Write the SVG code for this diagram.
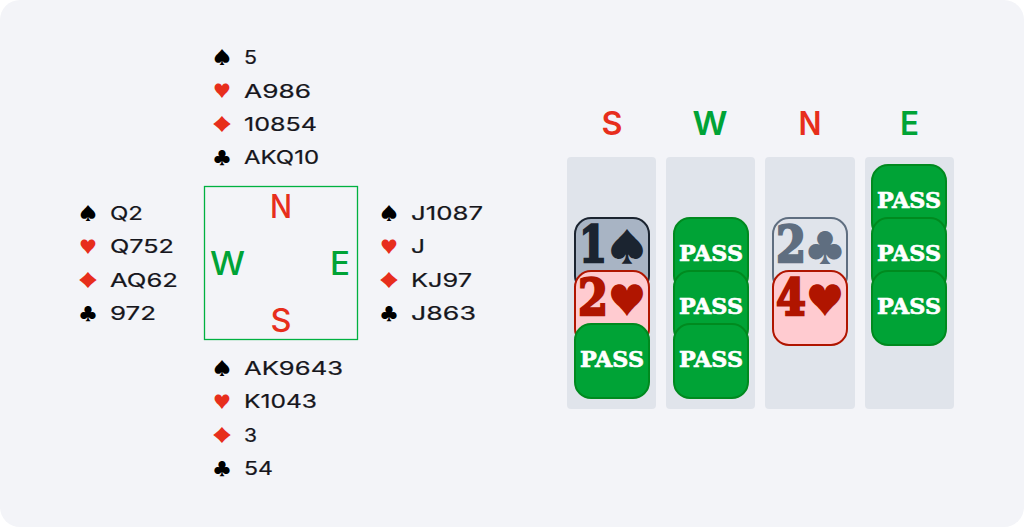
<svg xmlns="http://www.w3.org/2000/svg" width="1024" height="527" viewBox="0 0 1024 527">
<style>
.h{font:400 19px Inter,"Liberation Sans",sans-serif;fill:#16161c;stroke:#16161c;stroke-width:.2}
.s{font:400 17.500px "Noto Sans CJK SC","DejaVu Sans",sans-serif;text-anchor:middle}
.d{font-size:17px}
.k{fill:#000}.r{fill:#e72e1c}
.cr{font:500 32px Inter,"Liberation Sans",sans-serif;text-anchor:middle;fill:#e72e1c}
.cg{font:500 32px Inter,"Liberation Sans",sans-serif;text-anchor:middle;fill:#00a336}
.hd{font-weight:600}
.col{fill:#e0e4eb}
.card{stroke-width:2}
.pass{fill:#00a336;stroke:#008a1f}
.pt{font:700 23px "DejaVu Serif",serif;fill:#fff;text-anchor:middle;stroke:#fff;stroke-width:.7}
.b{font:700 50px "DejaVu Serif",serif;stroke-width:2.400}
.bs{font:400 38px "Noto Sans CJK SC","DejaVu Sans",sans-serif;text-anchor:middle}
</style>
<rect width="1024" height="527" fill="#fff"/>
<rect width="1024" height="527" rx="20" fill="#f3f4f8"/>
<g id="north">
<text class="s k" x="222" y="64">♠</text><text class="h" x="244" y="64" textLength="13" lengthAdjust="spacingAndGlyphs">5</text>
<text class="s r" x="222" y="97">♥</text><text class="h" x="244" y="98" textLength="67" lengthAdjust="spacingAndGlyphs">A986</text>
<text class="s d r" x="222" y="130.500" textLength="24" lengthAdjust="spacingAndGlyphs">♦</text><text class="h" x="244" y="131" textLength="73" lengthAdjust="spacingAndGlyphs">10854</text>
<text class="s k" x="222" y="164">♣</text><text class="h" x="244" y="164" textLength="75" lengthAdjust="spacingAndGlyphs">AKQ10</text>
</g>
<g id="west">
<text class="s k" x="88" y="220">♠</text><text class="h" x="110" y="220" textLength="33" lengthAdjust="spacingAndGlyphs">Q2</text>
<text class="s r" x="88" y="253">♥</text><text class="h" x="110" y="253" textLength="64" lengthAdjust="spacingAndGlyphs">Q752</text>
<text class="s d r" x="88" y="286.500" textLength="24" lengthAdjust="spacingAndGlyphs">♦</text><text class="h" x="110" y="287" textLength="68" lengthAdjust="spacingAndGlyphs">AQ62</text>
<text class="s k" x="88" y="320">♣</text><text class="h" x="110" y="320" textLength="46" lengthAdjust="spacingAndGlyphs">972</text>
</g>
<g id="east">
<text class="s k" x="389" y="220">♠</text><text class="h" x="411" y="220" textLength="72" lengthAdjust="spacingAndGlyphs">J1087</text>
<text class="s r" x="389" y="253">♥</text><text class="h" x="411" y="253" textLength="14" lengthAdjust="spacingAndGlyphs">J</text>
<text class="s d r" x="389" y="286.500" textLength="24" lengthAdjust="spacingAndGlyphs">♦</text><text class="h" x="411" y="287" textLength="61" lengthAdjust="spacingAndGlyphs">KJ97</text>
<text class="s k" x="389" y="320">♣</text><text class="h" x="411" y="320" textLength="65" lengthAdjust="spacingAndGlyphs">J863</text>
</g>
<g id="south">
<text class="s k" x="222" y="375">♠</text><text class="h" x="244" y="375" textLength="99" lengthAdjust="spacingAndGlyphs">AK9643</text>
<text class="s r" x="222" y="408">♥</text><text class="h" x="244" y="408" textLength="73" lengthAdjust="spacingAndGlyphs">K1043</text>
<text class="s d r" x="222" y="441.500" textLength="24" lengthAdjust="spacingAndGlyphs">♦</text><text class="h" x="244" y="442" textLength="13" lengthAdjust="spacingAndGlyphs">3</text>
<text class="s k" x="222" y="475">♣</text><text class="h" x="244" y="475" textLength="29" lengthAdjust="spacingAndGlyphs">54</text>
</g>
<g id="compass">
<rect x="204.500" y="186.500" width="153" height="153" fill="none" stroke="#00b140" stroke-width="1.300"/>
<text class="cr" x="281" y="218" textLength="22" lengthAdjust="spacingAndGlyphs">N</text>
<text class="cg" x="227.500" y="275" textLength="35" lengthAdjust="spacingAndGlyphs">W</text>
<text class="cg" x="340" y="275" textLength="20" lengthAdjust="spacingAndGlyphs">E</text>
<text class="cr" x="281" y="332" textLength="21" lengthAdjust="spacingAndGlyphs">S</text>
</g>
<g id="bidding-headers">
<text class="cr hd" x="612" y="135" textLength="21" lengthAdjust="spacingAndGlyphs">S</text>
<text class="cg hd" x="710" y="135" textLength="35" lengthAdjust="spacingAndGlyphs">W</text>
<text class="cr hd" x="810" y="135" textLength="23" lengthAdjust="spacingAndGlyphs">N</text>
<text class="cg hd" x="909.500" y="135" textLength="19" lengthAdjust="spacingAndGlyphs">E</text>
</g>
<g id="columns">
<rect class="col" x="567" y="157" width="89" height="252" rx="4"/>
<rect class="col" x="666" y="157" width="89" height="252" rx="4"/>
<rect class="col" x="765" y="157" width="90" height="252" rx="4"/>
<rect class="col" x="865" y="157" width="89" height="252" rx="4"/>
</g>
<g id="col-s">
<g id="bid-1s"><rect class="card" x="575" y="218" width="74" height="74" rx="16" fill="#a8b4c4" stroke="#1b2430"/><text class="b" x="579" y="262" fill="#1b2430" stroke="#1b2430" textLength="28" lengthAdjust="spacingAndGlyphs">1</text><text class="bs" x="627" y="261" fill="#1b2430">♠</text></g>
<g id="bid-2h"><rect class="card" x="575" y="271" width="74" height="74" rx="16" fill="#ffcbd0" stroke="#b01500"/><text class="b" x="578" y="315" fill="#b01500" stroke="#b01500" textLength="30" lengthAdjust="spacingAndGlyphs">2</text><text class="bs" x="627" y="314" fill="#b01500">♥</text></g>
<g id="pass-s"><rect class="card pass" x="575" y="324" width="74" height="74" rx="16"/><text class="pt" x="612" y="367" textLength="64" lengthAdjust="spacingAndGlyphs">PASS</text></g>
</g>
<g id="col-w">
<g id="pass-w1"><rect class="card pass" x="674" y="218" width="74" height="74" rx="16"/><text class="pt" x="711" y="261" textLength="64" lengthAdjust="spacingAndGlyphs">PASS</text></g>
<g id="pass-w2"><rect class="card pass" x="674" y="271" width="74" height="74" rx="16"/><text class="pt" x="711" y="314" textLength="64" lengthAdjust="spacingAndGlyphs">PASS</text></g>
<g id="pass-w3"><rect class="card pass" x="674" y="324" width="74" height="74" rx="16"/><text class="pt" x="711" y="367" textLength="64" lengthAdjust="spacingAndGlyphs">PASS</text></g>
</g>
<g id="col-n">
<g id="bid-2c"><rect class="card" x="773" y="218" width="74" height="74" rx="16" fill="#e0e4eb" stroke="#5f6e80"/><text class="b" x="776" y="262" fill="#5f6e80" stroke="#5f6e80" textLength="30" lengthAdjust="spacingAndGlyphs">2</text><text class="bs" x="825" y="261" fill="#5f6e80">♣</text></g>
<g id="bid-4h"><rect class="card" x="773" y="271" width="74" height="74" rx="16" fill="#ffcbd0" stroke="#b01500"/><text class="b" x="776" y="315" fill="#b01500" stroke="#b01500" textLength="30" lengthAdjust="spacingAndGlyphs">4</text><text class="bs" x="825" y="314" fill="#b01500">♥</text></g>
</g>
<g id="col-e">
<g id="pass-e1"><rect class="card pass" x="872" y="165" width="74" height="74" rx="16"/><text class="pt" x="909" y="208" textLength="64" lengthAdjust="spacingAndGlyphs">PASS</text></g>
<g id="pass-e2"><rect class="card pass" x="872" y="218" width="74" height="74" rx="16"/><text class="pt" x="909" y="261" textLength="64" lengthAdjust="spacingAndGlyphs">PASS</text></g>
<g id="pass-e3"><rect class="card pass" x="872" y="271" width="74" height="74" rx="16"/><text class="pt" x="909" y="314" textLength="64" lengthAdjust="spacingAndGlyphs">PASS</text></g>
</g>
<g id="connectors"/>
</svg>
